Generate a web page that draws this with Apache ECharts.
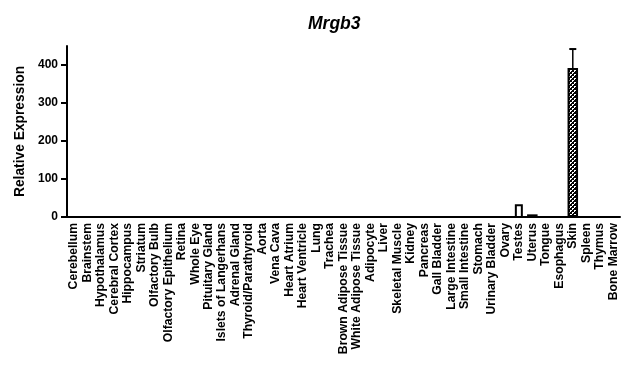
<!DOCTYPE html>
<html>
<head>
<meta charset="utf-8">
<script src="https://cdn.jsdelivr.net/npm/echarts@6/dist/echarts.min.js"></script>
<style>
html,body{margin:0;padding:0;background:#fff;}
#chart{width:626px;height:366px;}
</style>
</head>
<body>
<div id="chart"></div>
<script>
const categories = ["Cerebellum","Brainstem","Hypothalamus","Cerebral Cortex","Hippocampus","Striatum","Olfactory Bulb","Olfactory Epithelium","Retina","Whole Eye","Pituitary Gland","Islets of Langerhans","Adrenal Gland","Thyroid/Parathyroid","Aorta","Vena Cava","Heart Atrium","Heart Ventricle","Lung","Trachea","Brown Adipose Tissue","White Adipose Tissue","Adipocyte","Liver","Skeletal Muscle","Kidney","Pancreas","Gall Bladder","Large Intestine","Small Intestine","Stomach","Urinary Bladder","Ovary","Testes","Uterus","Tongue","Esophagus","Skin","Spleen","Thymus","Bone Marrow"];
const values = [0,0,0,0,0,0,0,0,0,0,0,0,0,0,0,0,0,0,0,0,0,0,0,0,0,0,0,0,0,0,0,0,0,31,7,0,0,392,0,0,0];
const errors = [0,0,0,0,0,0,0,0,0,0,0,0,0,0,0,0,0,0,0,0,0,0,0,0,0,0,0,0,0,0,0,0,0,0,0,0,0,50,0,0,0];
const yTicks = [0,100,200,300,400];
const title = "Mrgb3";
const yName = "Relative Expression";

const FONT = "'Liberation Sans', Arial, sans-serif";
const pc = document.createElement('canvas');
pc.width = 4; pc.height = 4;
const px = pc.getContext('2d');
px.fillStyle = '#000'; px.fillRect(0,0,4,4);
px.fillStyle = '#fff';
px.fillRect(0,0,2,1); px.fillRect(0,1,1,1);
px.fillRect(2,2,2,1); px.fillRect(2,3,1,1);
const pattern = {image: pc, repeat: 'repeat'};

const mainData = values.map((v, i) => {
  if (categories[i] === 'Testes') return null;
  if (categories[i] === 'Skin') return {value: v, itemStyle: {color: pattern, borderColor: '#000', borderWidth: 2}};
  return v;
});
const testesData = [];
values.forEach((v, i) => { if (categories[i] === 'Testes') testesData.push([i, v]); });
const errData = [];
errors.forEach((e, i) => { if (e > 0) errData.push([i, values[i], e]); });

const chart = echarts.init(document.getElementById('chart'), null, {renderer: 'canvas'});
chart.setOption({
  animation: false,
  backgroundColor: '#fff',
  title: {
    text: title, left: 303, top: 10,
    textStyle: {fontFamily: FONT, fontSize: 17.5, fontWeight: 'bold', fontStyle: 'italic', color: '#000'}
  },
  grid: {left: 67, right: 6, top: 46, bottom: 149, containLabel: false},
  xAxis: {
    type: 'category', data: categories,
    axisLine: {lineStyle: {color: '#000', width: 2}},
    axisTick: {alignWithLabel: true, length: 5, lineStyle: {color: '#000', width: 2}},
    axisLabel: {rotate: 90, interval: 0, margin: 6, color: '#000', fontFamily: FONT, fontSize: 12.2, fontWeight: 'bold'}
  },
  yAxis: {
    type: 'value', min: 0, max: 450, interval: 100,
    name: yName, nameLocation: 'middle', nameGap: 37,
    nameTextStyle: {fontFamily: FONT, fontSize: 13.8, fontWeight: 'bold', color: '#000'},
    axisLine: {show: true, lineStyle: {color: '#000', width: 2}},
    axisTick: {show: true, length: 6, customValues: yTicks, lineStyle: {color: '#000', width: 2}},
    axisLabel: {customValues: yTicks, margin: 9, color: '#000', fontFamily: FONT, fontSize: 12, fontWeight: 'bold'},
    splitLine: {show: false}
  },
  series: [
    {
      type: 'bar', data: mainData, barWidth: 10.5,
      itemStyle: {color: '#fff', borderColor: '#000', borderWidth: 1.5}
    },
    {
      type: 'custom', data: testesData, z: 4,
      renderItem: function (params, api) {
        const top = api.coord([api.value(0), api.value(1)]);
        const base = api.coord([api.value(0), 0]);
        return {type: 'rect', shape: {x: top[0] - 3, y: top[1], width: 6, height: base[1] - top[1]},
          style: {fill: '#fff', stroke: '#000', lineWidth: 2}};
      }
    },
    {
      type: 'custom', data: errData, z: 5,
      renderItem: function (params, api) {
        const base = api.coord([api.value(0), api.value(1)]);
        const top = api.coord([api.value(0), api.value(1) + api.value(2)]);
        return {type: 'group', children: [
          {type: 'line', shape: {x1: base[0], y1: base[1], x2: top[0], y2: top[1]}, style: {stroke: '#000', lineWidth: 1.5}},
          {type: 'line', shape: {x1: top[0] - 3.5, y1: top[1], x2: top[0] + 3.5, y2: top[1]}, style: {stroke: '#000', lineWidth: 2}}
        ]};
      }
    }
  ]
});
</script>
</body>
</html>
